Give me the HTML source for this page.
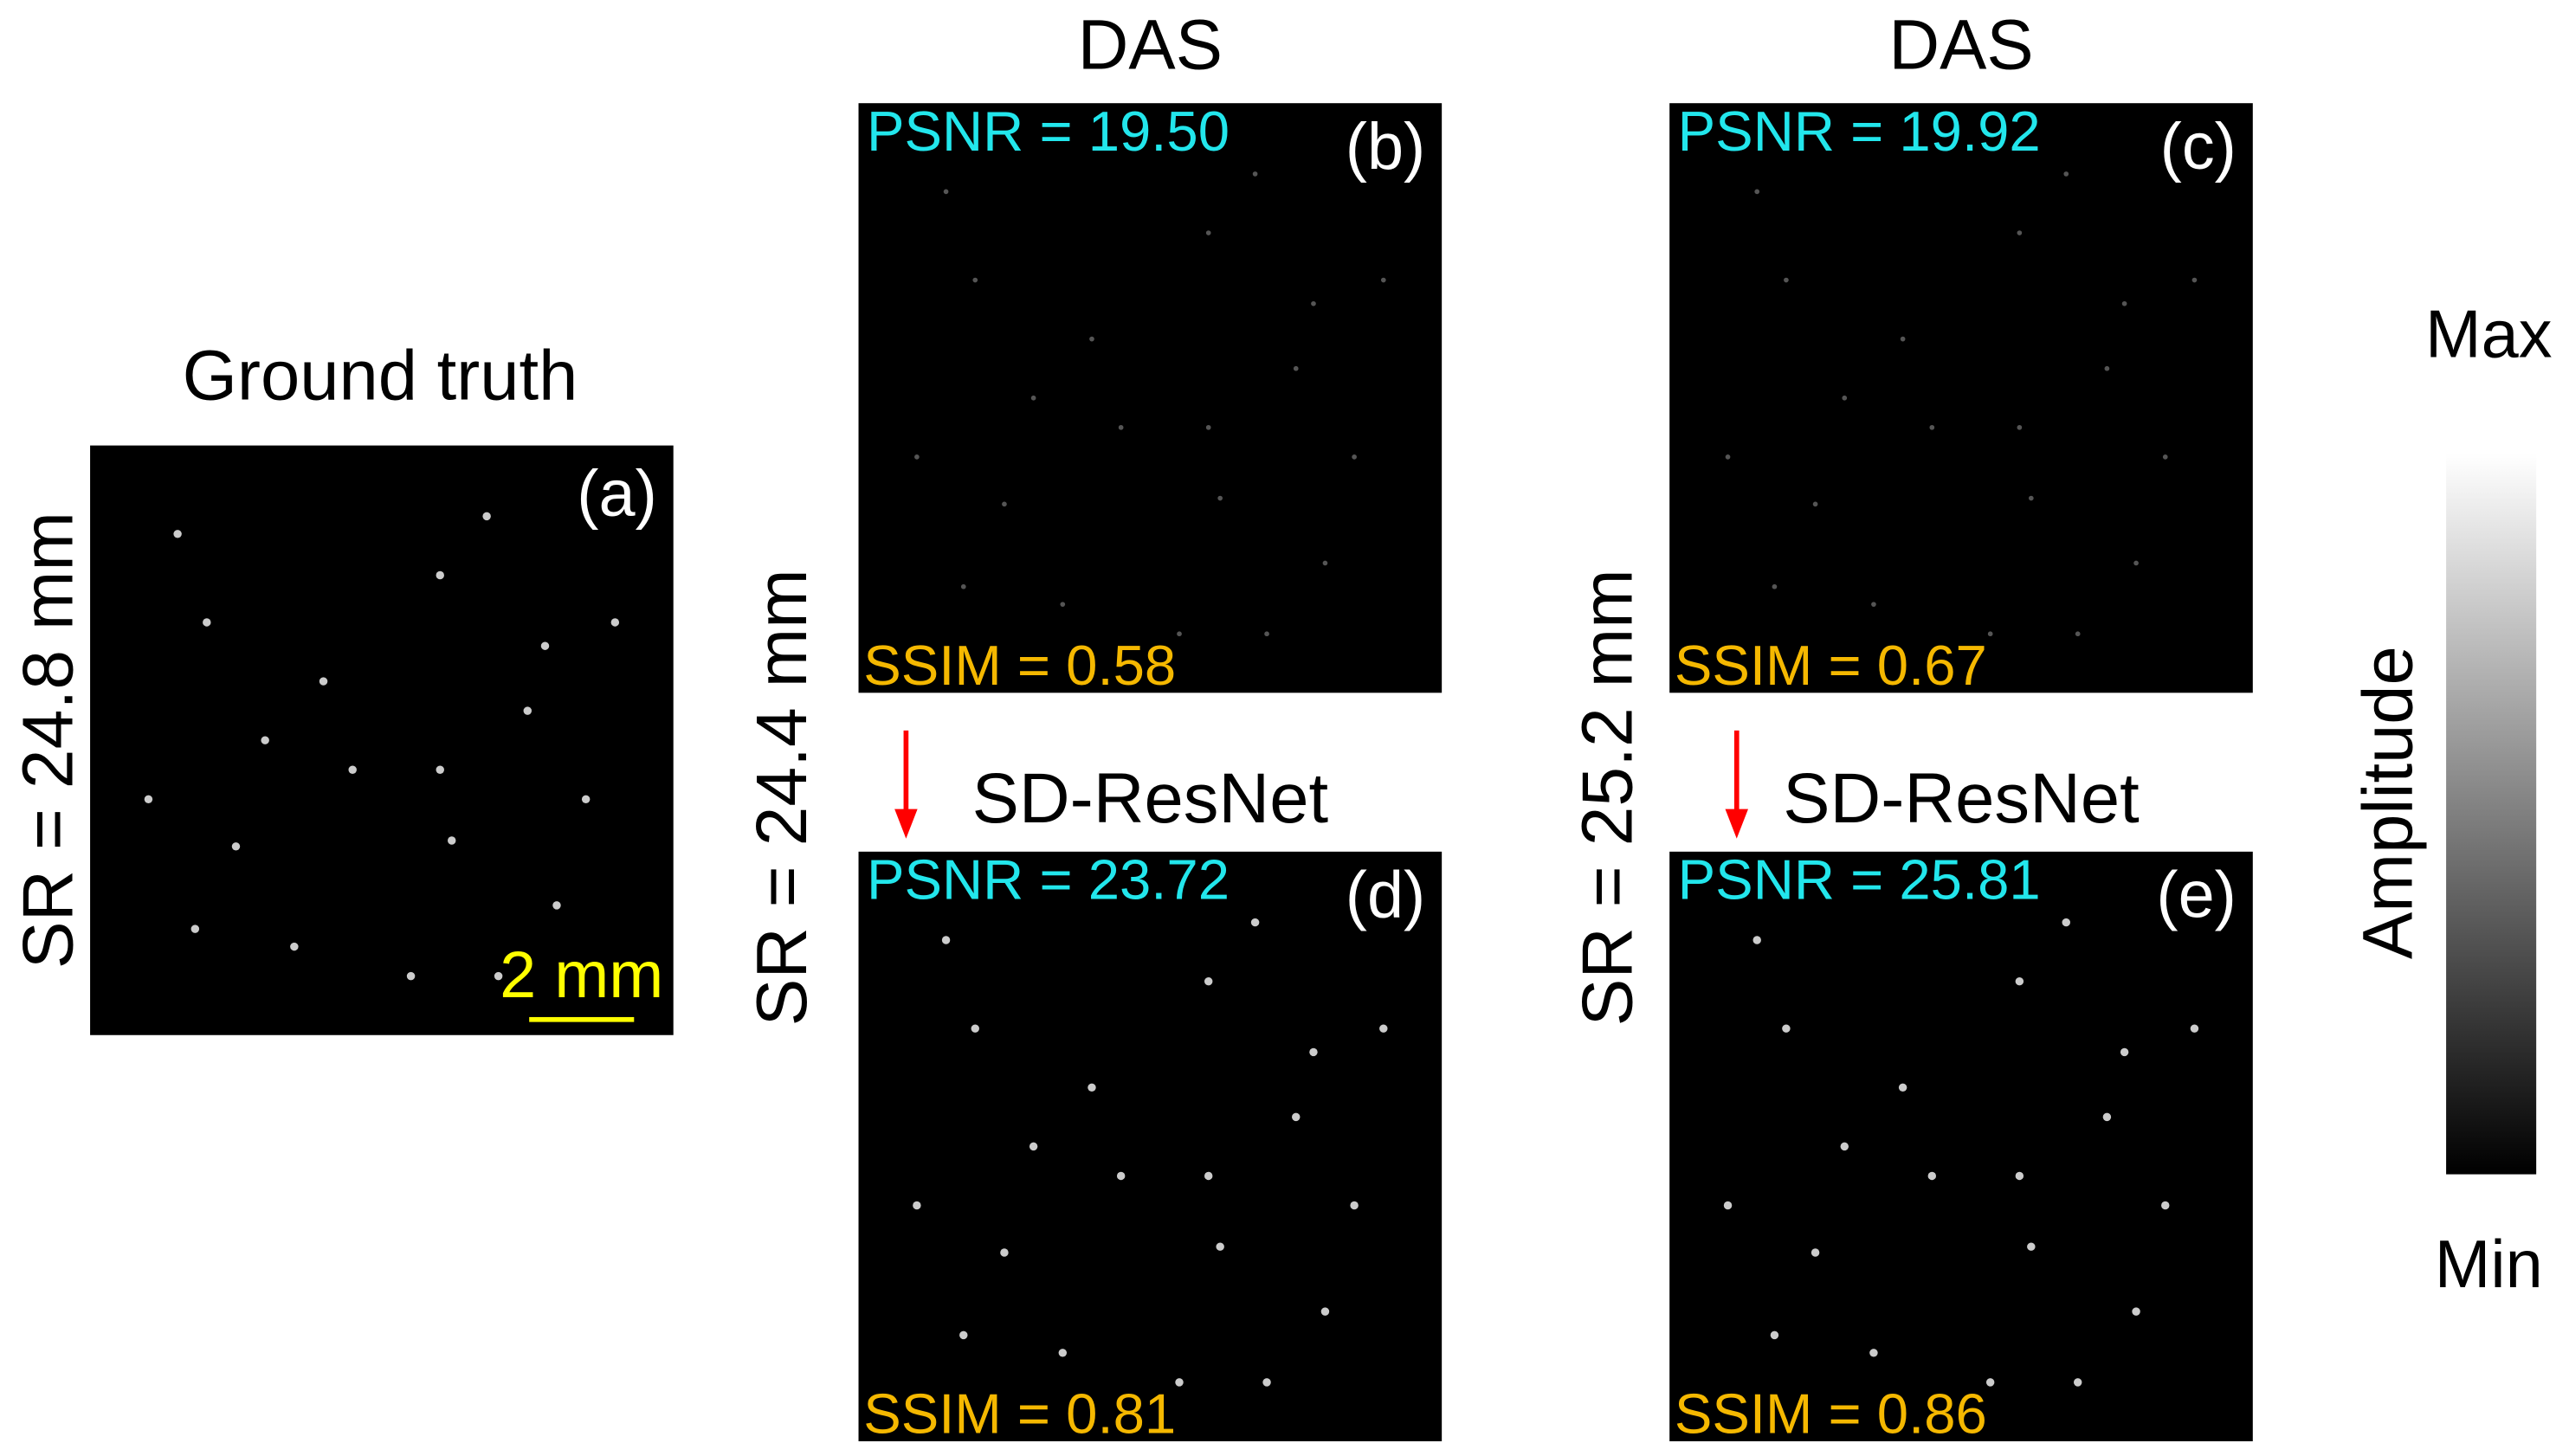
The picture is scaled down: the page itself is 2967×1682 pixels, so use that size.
<!DOCTYPE html>
<html><head><meta charset="utf-8"><style>
html,body{margin:0;padding:0;background:#fff;}
svg{display:block;}
text{font-family:"Liberation Sans",sans-serif;}
</style></head><body>
<svg width="2967" height="1682" viewBox="0 0 1568 889" preserveAspectRatio="none">
<defs>
<linearGradient id="cb" x1="0" y1="1" x2="0" y2="0">
<stop offset="0" stop-color="#000"/><stop offset="1" stop-color="#fff"/>
</linearGradient>
</defs>
<text x="232" y="244" font-size="43" text-anchor="middle">Ground truth</text>
<text x="702" y="42" font-size="43" text-anchor="middle">DAS</text>
<text x="1197" y="42" font-size="43" text-anchor="middle">DAS</text>
<text x="702" y="502" font-size="43" text-anchor="middle">SD-ResNet</text>
<text x="1197" y="502" font-size="43" text-anchor="middle">SD-ResNet</text>
<text transform="translate(44,452) rotate(-90)" font-size="43.5" text-anchor="middle">SR = 24.8 mm</text>
<text transform="translate(492,487) rotate(-90)" font-size="43.5" text-anchor="middle">SR = 24.4 mm</text>
<text transform="translate(996,487) rotate(-90)" font-size="43.5" text-anchor="middle">SR = 25.2 mm</text>
<g><line x1="553" y1="446" x2="553" y2="496" stroke="#f00" stroke-width="3"/><polygon points="546,494 560,494 553,512" fill="#f00"/></g>
<g><line x1="1060" y1="446" x2="1060" y2="496" stroke="#f00" stroke-width="3"/><polygon points="1053,494 1067,494 1060,512" fill="#f00"/></g>
<g id="panels"></g>
<rect x="1493" y="277" width="55" height="440" fill="url(#cb)"/>
<text x="1519" y="218" font-size="41" text-anchor="middle">Max</text>
<text x="1519" y="786" font-size="41" text-anchor="middle">Min</text>
<text transform="translate(1472,490) rotate(-90)" font-size="43" text-anchor="middle">Amplitude</text>
</svg>
<script>
const panelIds=['a','b','c','d','e'];
const panelX=[55,524,1019,524,1019];
const panelY=[272,63,63,520,520];
const psnr=[null,'19.50','19.92','23.72','25.81'];
const ssim=[null,'0.58','0.67','0.81','0.86'];
const dots=[[0.15,0.15],[0.2,0.3],[0.6,0.22],[0.68,0.12],[0.78,0.34],[0.75,0.45],[0.3,0.5],[0.45,0.55],[0.6,0.55],[0.1,0.6],[0.25,0.68],[0.62,0.67],[0.8,0.78],[0.35,0.85],[0.55,0.9],[0.85,0.6],[0.4,0.4],[0.9,0.3],[0.18,0.82],[0.7,0.9]];
const NS='http://www.w3.org/2000/svg';
const g=document.getElementById('panels');
function mk(t,a){const e=document.createElementNS(NS,t);for(const k in a)e.setAttribute(k,a[k]);return e;}
panelIds.forEach((id,i)=>{
  const x=panelX[i],y=panelY[i],w=356,h=360;
  const r=mk('rect',{x:x,y:y,width:w,height:h,fill:'#000'});
  
  
  g.appendChild(r);
  dots.forEach((d,j)=>{
    const c=mk('circle',{cx:x+d[0]*w,cy:y+d[1]*h,r:(i===1||i===2)?1.5:2.5,fill:(i===1||i===2)?'#555':'#ccc'});
    
    
    g.appendChild(c);
  });
  const l=mk('text',{x:x+w-10,y:y+(i===0?43:40),'font-size':40,fill:'#fff','text-anchor':'end'});
  l.textContent='('+id+')';
  
  
  g.appendChild(l);
  if(psnr[i]){
    const p=mk('text',{x:x+5,y:y+29,'font-size':34.5,fill:'#22e6ec'});
    p.textContent='PSNR = '+psnr[i];
    
    
    g.appendChild(p);
    const s=mk('text',{x:x+3,y:y+h-5,'font-size':34.5,fill:'#f5b800'});
    s.textContent='SSIM = '+ssim[i];
    
    
    g.appendChild(s);
  }
});
const sb=mk('text',{x:355,y:609,'font-size':40,fill:'#ffff00','text-anchor':'middle'});
sb.textContent='2 mm';


g.appendChild(sb);
const sl=mk('rect',{x:323,y:621,width:64,height:3,fill:'#ffff00'});


g.appendChild(sl);
</script>
</body></html>
